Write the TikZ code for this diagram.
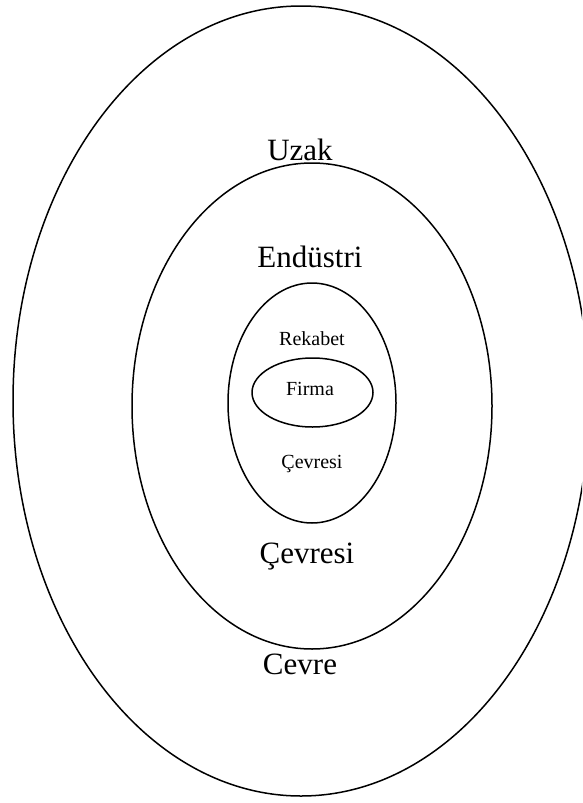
\documentclass[tikz,border=0pt]{standalone}
\usepackage{fontspec}
\setmainfont{Liberation Serif}
\begin{document}
\begin{tikzpicture}[x=1pt,y=-1pt,
  ring/.style={draw=black, line width=1.5pt},
  bigtxt/.style={font=\fontsize{31}{31}\selectfont, inner sep=0pt, anchor=base},
  smalltxt/.style={font=\fontsize{20}{20}\selectfont, inner sep=0pt, anchor=base}]
\useasboundingbox (0,0) rectangle (582,803);
\begin{scope}
  \clip (0,0) rectangle (582,803);
  \draw[ring] (301,401) ellipse [x radius=288, y radius=395];
\end{scope}
\draw[ring] (312,406) ellipse [x radius=180, y radius=243];
\draw[ring] (312,403) ellipse [x radius=84, y radius=120];
\draw[ring] (312.5,392.5) ellipse [x radius=60.5, y radius=34.5];
\node[bigtxt] (uzak) at (300,160) {Uzak};
\node[bigtxt] (endustri) at (310,267) {Endüstri};
\node[smalltxt] (rekabet) at (312,345) {Rekabet};
\node[smalltxt] (firma) at (310,395) {Firma};
\node[smalltxt] (cevresiA) at (312,468) {Çevresi};
\node[bigtxt] (cevresiB) at (307,563) {Çevresi};
\node[bigtxt] (cevre) at (300,674) {Cevre};
\end{tikzpicture}
\end{document}
